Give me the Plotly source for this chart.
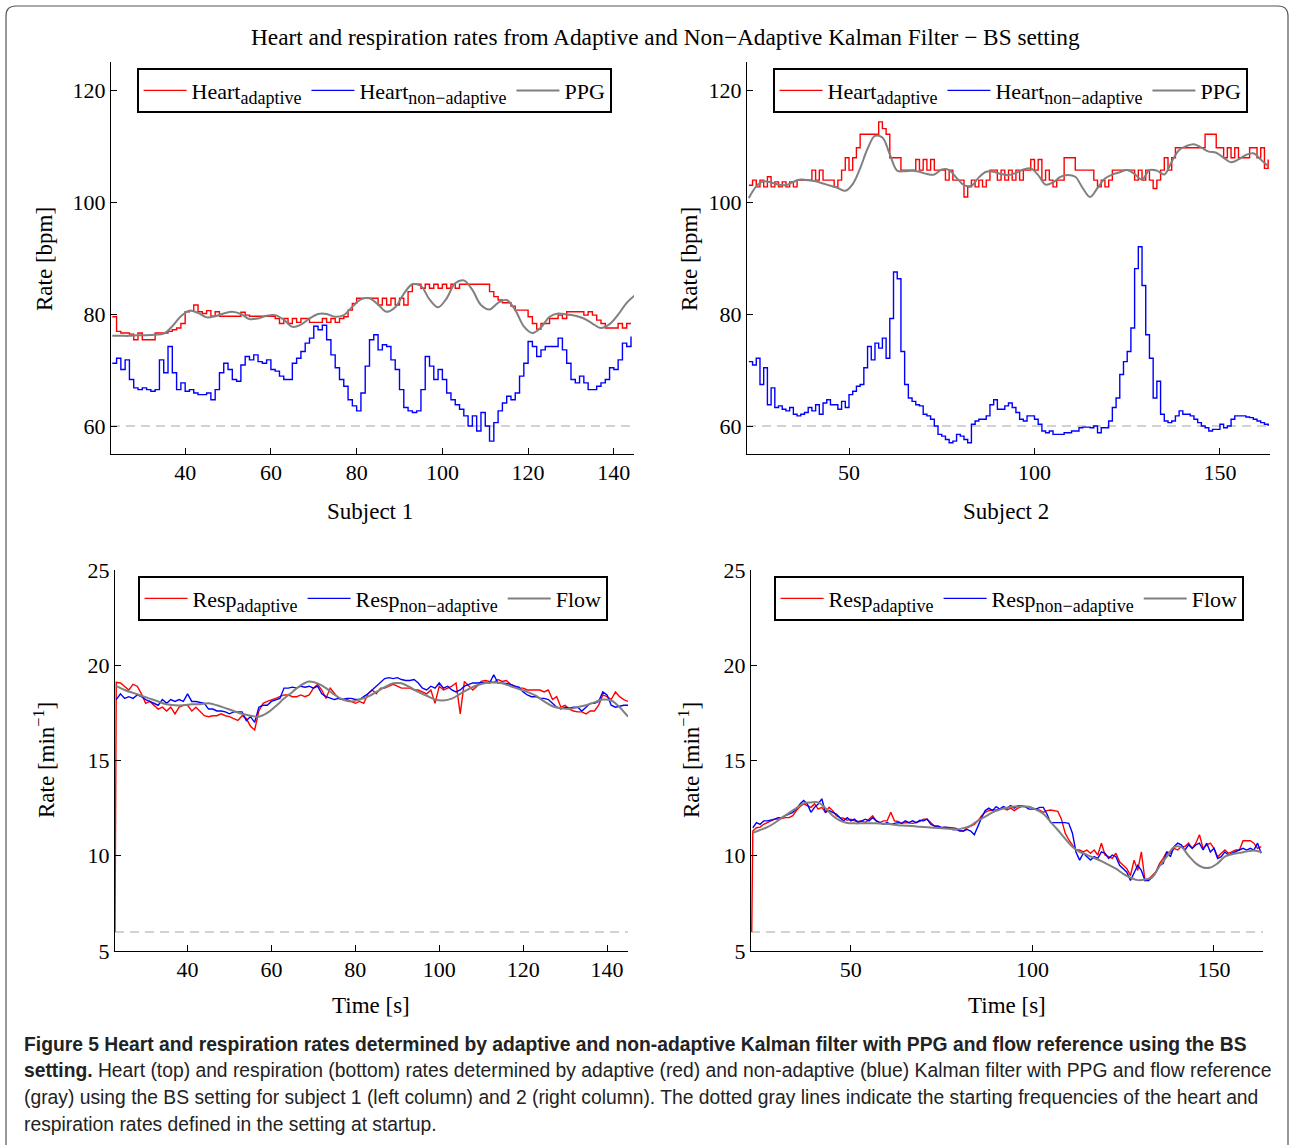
import plotly.graph_objects as go

# ---------------- data ----------------
# Subject 1 – heart (time in s, rate in bpm)
t_heart1 = list(range(23, 145))
heart1_adaptive = [
    79.5, 76.9, 76.6, 76.6, 76.4, 75.4, 76.6, 75.4, 75.4, 75.4,
    76.6, 76.6, 76.6, 76.9, 77.2, 77.5, 78.3, 80.4, 80.6, 81.6,
    80.4, 80.1, 80.6, 79.6, 80.4, 79.6, 79.6, 79.6, 79.6, 79.6,
    80.3, 79.8, 79.6, 79.6, 79.6, 79.6, 79.6, 79.6, 79.2, 78.3,
    79.2, 78.3, 79.2, 78.5, 79.2, 79.2, 78.5, 78.5, 78.5, 79.2,
    78.5, 79.2, 78.5, 79.2, 79.5, 80.7, 81.9, 82.8, 82.8, 82.8,
    82.8, 82.8, 81.6, 82.8, 81.6, 82.8, 81.6, 82.8, 81.6, 84.0,
    85.3, 85.3, 84.6, 85.3, 84.6, 85.3, 84.6, 85.3, 84.6, 85.3,
    84.6, 85.3, 85.3, 85.3, 85.3, 85.3, 85.3, 85.3, 84.0, 83.1,
    82.5, 82.0, 82.0, 81.4, 80.7, 80.7, 80.7, 79.5, 78.3, 77.3,
    78.3, 78.3, 79.2, 79.2, 79.8, 79.2, 80.4, 80.4, 80.4, 80.4,
    79.8, 80.4, 79.8, 78.9, 78.3, 77.5, 77.5, 77.5, 78.3, 77.5,
    78.3, 78.3]
heart1_nonadaptive = [
    71.2, 72.1, 70.1, 71.8, 68.3, 66.8, 66.5, 66.8, 66.5, 66.2,
    66.5, 71.8, 69.5, 74.2, 69.5, 66.5, 67.7, 66.2, 66.5, 65.9,
    65.6, 65.6, 65.9, 64.7, 66.5, 69.5, 71.2, 70.1, 68.3, 68.0,
    70.9, 72.4, 71.8, 72.7, 71.5, 71.2, 71.8, 70.1, 69.8, 68.9,
    68.3, 68.3, 71.2, 72.1, 73.3, 74.8, 75.7, 77.8, 77.2, 78.0,
    75.4, 72.7, 70.4, 68.3, 67.1, 64.7, 63.6, 62.7, 65.9, 70.7,
    75.4, 76.3, 73.6, 74.5, 74.2, 71.8, 70.1, 66.5, 63.3, 62.7,
    62.4, 62.7, 66.5, 72.4, 70.7, 68.3, 70.1, 68.3, 65.9, 64.7,
    63.8, 63.0, 61.8, 60.0, 61.8, 59.1, 62.4, 60.0, 57.3, 60.6,
    62.7, 64.1, 65.3, 64.7, 65.9, 68.9, 71.2, 75.1, 74.2, 72.4,
    73.6, 74.2, 74.2, 74.2, 75.7, 73.6, 71.2, 68.3, 67.7, 68.9,
    67.7, 66.5, 66.5, 67.1, 67.7, 68.3, 70.4, 70.1, 71.8, 74.8,
    74.2, 76.0]
t_ppg1 = list(range(23, 146, 2))
ppg1 = [
    76.1, 76.1, 76.1, 76.2, 76.2, 76.3, 76.5, 77.8, 79.6, 80.6,
    80.2, 79.4, 79.6, 80.1, 80.4, 80.0, 79.1, 79.2, 79.7, 79.8,
    79.0, 77.7, 78.1, 79.2, 80.0, 80.0, 79.5, 79.8, 81.3, 82.6,
    82.8, 81.7, 80.4, 81.2, 83.6, 85.3, 85.0, 82.6, 81.2, 82.8,
    85.5, 86.0, 84.3, 81.6, 80.8, 82.0, 82.5, 80.7, 77.8, 76.6,
    77.6, 79.5, 80.1, 79.9, 79.7, 79.2, 78.3, 77.5, 78.2, 79.9,
    82.0, 83.4]

# Subject 2 – heart
t_heart2 = list(range(23, 164))
heart2_adaptive = [
    103.0, 103.9, 102.7, 103.9, 102.7, 104.5, 102.7, 103.6, 102.7, 103.6,
    102.7, 103.6, 102.7, 103.9, 103.9, 103.9, 103.9, 105.7, 103.9, 105.7,
    103.9, 103.9, 103.9, 102.7, 103.9, 105.7, 107.9, 105.7, 107.9, 109.7,
    112.1, 112.1, 112.1, 112.1, 112.1, 114.3, 113.1, 112.1, 107.9, 107.9,
    107.9, 105.7, 105.7, 105.7, 105.7, 107.6, 105.7, 107.6, 105.7, 107.6,
    105.7, 105.7, 105.7, 103.9, 105.7, 103.9, 103.9, 103.9, 100.9, 102.7,
    103.9, 102.7, 103.9, 102.7, 103.9, 105.7, 105.7, 103.9, 105.7, 103.9,
    105.7, 103.9, 105.7, 103.9, 105.7, 105.7, 107.6, 105.7, 107.6, 103.9,
    105.7, 103.9, 102.7, 103.9, 103.9, 107.9, 107.9, 107.9, 105.7, 105.7,
    105.7, 105.7, 105.7, 103.9, 102.7, 103.9, 102.7, 103.9, 105.7, 105.7,
    105.7, 105.7, 105.7, 105.7, 103.9, 105.7, 103.9, 105.7, 103.9, 102.4,
    103.9, 105.7, 107.9, 105.7, 107.9, 109.7, 109.7, 109.7, 109.7, 109.7,
    109.7, 109.7, 109.7, 112.1, 112.1, 112.1, 109.7, 109.7, 107.9, 109.7,
    107.9, 109.7, 107.9, 107.9, 107.9, 109.7, 109.7, 107.9, 109.7, 106.0,
    107.6]
heart2_nonadaptive = [
    71.5, 70.9, 72.1, 67.4, 70.4, 63.8, 66.8, 63.3, 63.6, 63.0,
    62.7, 63.3, 62.1, 61.8, 62.1, 62.4, 63.3, 62.7, 63.8, 62.1,
    64.1, 64.7, 63.8, 63.8, 63.0, 64.4, 63.3, 65.6, 66.2, 67.1,
    67.4, 70.4, 74.2, 71.8, 74.8, 73.9, 75.7, 72.1, 79.2, 87.5,
    86.3, 73.3, 67.4, 65.0, 64.4, 63.8, 63.6, 62.1, 61.8, 61.2,
    60.0, 58.5, 58.2, 57.6, 57.0, 57.3, 58.5, 58.2, 57.6, 57.0,
    60.3, 60.9, 61.2, 61.2, 61.8, 63.8, 64.7, 63.0, 63.0, 63.6,
    64.1, 63.3, 62.4, 61.2, 60.9, 61.8, 61.8, 61.2, 60.3, 59.1,
    58.8, 59.1, 58.5, 58.5, 58.5, 58.8, 58.8, 59.1, 59.1, 59.7,
    59.8, 59.8, 59.7, 60.0, 58.8, 59.7, 59.7, 60.9, 63.3, 65.0,
    69.2, 71.5, 73.3, 77.5, 88.1, 92.0, 85.1, 76.3, 72.1, 65.0,
    68.0, 62.1, 60.9, 60.6, 60.9, 61.8, 62.7, 62.1, 62.1, 61.8,
    61.2, 60.6, 60.0, 59.7, 59.1, 59.4, 59.4, 60.3, 59.7, 60.0,
    61.2, 61.8, 61.8, 61.8, 61.6, 61.5, 61.2, 60.9, 60.6, 60.3,
    60.0]
t_ppg2 = list(range(23, 164, 2))
ppg2 = [
    100.7, 102.8, 103.7, 103.5, 103.1, 103.0, 103.6, 104.0, 103.9, 103.7,
    103.3, 102.9, 102.5, 102.0, 103.2, 106.0, 109.5, 111.8, 111.5, 108.5,
    105.6, 105.5, 105.6, 105.4, 105.0, 104.9, 105.8, 105.7, 104.3, 103.0,
    102.9, 104.4, 105.4, 105.4, 105.0, 104.8, 105.2, 105.8, 106.0, 104.8,
    103.1, 103.5, 104.5, 104.8, 104.5, 102.5, 100.9, 102.5, 104.2, 104.9,
    105.3, 105.7, 105.0, 104.0, 105.7, 105.6, 104.9, 107.2, 109.3, 110.0,
    110.3, 109.7, 109.0, 108.8, 107.9, 107.1, 107.6, 108.4, 108.7, 107.6,
    106.4]

# Subject 1 – respiration (rate in 1/min)
t_resp1 = list(range(23, 146))
resp1_adaptive = [
    19.1, 19.07, 18.9, 18.7, 19.0, 18.9, 18.5, 18.0, 18.1, 17.9,
    17.7, 17.8, 17.6, 17.8, 17.45, 17.8, 17.9, 17.9, 17.6, 17.8,
    17.6, 17.35, 17.3, 17.35, 17.35, 17.45, 17.35, 17.3, 17.2, 17.1,
    17.35, 17.2, 16.8, 16.6, 17.6, 18.0, 18.1, 18.2, 18.26, 18.35,
    18.44, 18.44, 18.35, 18.35, 18.44, 18.35, 18.44, 18.8, 19.0, 18.7,
    18.26, 18.8, 18.5, 18.26, 18.2, 18.2, 18.1, 18.0, 18.1, 18.0,
    18.5, 18.7, 18.5, 18.8, 18.8, 18.9, 19.0, 18.9, 18.8, 18.8,
    18.8, 18.7, 18.7, 18.6, 18.5, 18.7, 18.0, 18.9, 18.7, 18.8,
    18.9, 19.07, 17.45, 19.15, 18.9, 18.7, 18.9, 19.15, 19.2, 19.15,
    19.1, 19.25, 19.15, 19.2, 19.0, 18.9, 18.8, 18.8, 18.7, 18.7,
    18.7, 18.7, 18.6, 18.7, 18.2, 18.35, 17.8, 17.9, 17.7, 17.6,
    17.55, 17.55, 17.45, 17.6, 17.6, 17.9, 18.44, 18.35, 18.2, 18.6,
    18.35, 18.2, 18.1]
resp1_nonadaptive = [
    18.2, 18.5, 18.26, 18.35, 18.26, 18.44, 18.35, 18.2, 18.1, 18.0,
    17.9, 18.2, 18.0, 18.2, 18.1, 18.2, 18.1, 18.5, 18.1, 18.1,
    18.03, 18.0, 17.7, 17.7, 17.6, 17.6, 17.55, 17.45, 17.55, 17.55,
    17.55, 17.1, 17.3, 17.0, 17.8, 17.9, 17.9, 18.1, 18.2, 18.26,
    18.8, 18.8, 18.85, 18.8, 18.9, 18.85, 18.9, 18.8, 18.9, 18.5,
    18.35, 18.26, 18.2, 18.26, 18.2, 18.26, 18.26, 18.2, 18.2, 18.35,
    18.5, 18.7, 18.9, 19.15, 19.3, 19.35, 19.3, 19.35, 19.25, 19.2,
    19.2, 19.25, 19.07, 18.8, 18.7, 18.9, 18.8, 19.07, 18.8, 18.9,
    18.7, 18.6, 18.7, 18.9, 19.0, 19.07, 19.07, 19.1, 19.1, 19.07,
    19.5, 19.07, 19.07, 19.05, 19.0, 18.9, 18.85, 18.6, 18.44, 18.35,
    18.35, 18.26, 18.26, 18.2, 18.0, 17.8, 17.7, 17.8, 17.75, 17.8,
    17.8, 17.6, 17.8, 18.0, 18.0, 18.1, 18.6, 18.44, 17.9, 17.8,
    17.85, 17.9, 17.9]
t_flow1 = list(range(23, 146, 2))
flow1 = [
    18.9, 18.7, 18.55, 18.4, 18.25, 18.1, 17.95, 17.9, 17.9, 17.95,
    17.95, 18.0, 17.9, 17.75, 17.6, 17.45, 17.35, 17.3, 17.5, 17.85,
    18.25, 18.6, 18.95, 19.15, 19.05, 18.8, 18.45, 18.2, 18.1, 18.2,
    18.35, 18.6, 18.85, 19.05, 19.05, 18.85, 18.6, 18.4, 18.2, 18.15,
    18.25, 18.5, 18.75, 18.95, 19.07, 19.1, 19.05, 18.9, 18.75, 18.6,
    18.4, 18.1, 17.85, 17.75, 17.7, 17.8, 17.9, 18.05, 18.2, 18.15,
    17.8, 17.3]

# Subject 2 – respiration
t_resp2 = list(range(23, 164))
resp2_adaptive = [
    11.3, 11.47, 11.5, 11.65, 11.74, 11.8, 11.92, 11.92, 11.97, 12.0,
    12.0, 12.1, 12.37, 12.58, 12.72, 12.63, 12.54, 12.72, 12.45, 12.54,
    12.28, 12.54, 12.37, 12.1, 12.0, 11.97, 11.86, 11.92, 11.83, 11.8,
    11.83, 11.74, 11.92, 12.1, 11.83, 11.74, 11.83, 11.83, 12.28, 11.83,
    11.8, 11.7, 11.74, 11.7, 11.7, 11.74, 11.8, 11.92, 11.92, 11.74,
    11.56, 11.5, 11.5, 11.47, 11.47, 11.47, 11.43, 11.33, 11.3, 11.47,
    11.56, 11.65, 11.83, 12.1, 12.28, 12.37, 12.4, 12.4, 12.45, 12.5,
    12.4, 12.5, 12.37, 12.5, 12.58, 12.58, 12.58, 12.5, 12.45, 12.4,
    12.28, 12.37, 12.4, 12.37, 12.33, 11.92, 11.2, 10.84, 10.57, 10.3,
    10.3, 10.2, 10.3, 10.13, 10.3, 10.04, 10.66, 10.04, 9.95, 9.86,
    10.13, 9.68, 9.5, 9.32, 8.96, 9.77, 9.23, 10.2, 8.7, 8.78,
    8.96, 9.14, 9.59, 9.86, 10.2, 10.13, 10.39, 10.3, 10.48, 10.48,
    10.66, 10.39, 10.66, 11.1, 10.39, 10.57, 10.66, 10.39, 9.95, 10.13,
    10.3, 10.13, 10.2, 10.3, 10.3, 10.79, 10.79, 10.79, 10.66, 10.39,
    10.48]
resp2_nonadaptive = [
    11.47, 11.74, 11.65, 11.83, 11.83, 11.86, 11.92, 12.0, 12.0, 12.1,
    12.19, 12.28, 12.45, 12.72, 12.9, 12.72, 12.28, 12.54, 12.72, 12.99,
    12.28, 12.37, 12.28, 12.19, 12.0, 11.83, 12.0, 11.83, 11.92, 11.74,
    11.83, 11.92, 11.83, 12.0, 11.83, 11.74, 11.65, 11.74, 11.65, 11.7,
    11.74, 11.7, 11.83, 11.74, 11.83, 11.74, 11.86, 11.83, 11.92, 11.65,
    11.56, 11.56, 11.47, 11.5, 11.47, 11.38, 11.38, 11.3, 11.3, 11.38,
    11.3, 11.1, 11.56, 12.0, 12.37, 12.5, 12.37, 12.58, 12.45, 12.58,
    12.5, 12.63, 12.5, 12.63, 12.63, 12.58, 12.45, 12.45, 12.45, 12.54,
    12.54, 12.19, 11.74, 11.74, 11.74, 11.74, 11.74, 11.7, 11.2, 10.2,
    9.77, 10.13, 9.95, 9.77, 9.95, 9.86, 10.2, 10.13, 9.86, 10.04,
    9.95, 9.5, 9.32, 9.14, 8.7, 9.14, 9.5, 9.23, 8.7, 8.7,
    8.87, 9.14, 9.5, 9.59, 10.2, 9.95, 10.48, 10.66, 10.57, 10.3,
    10.57, 10.39, 10.57, 10.66, 10.3, 10.66, 10.2, 10.39, 9.86, 9.95,
    10.2, 10.04, 10.13, 10.2, 10.3, 10.39, 10.3, 10.39, 10.3, 10.66,
    10.13]
t_flow2 = list(range(23, 164, 2))
flow2 = [
    11.2, 11.35, 11.5, 11.72, 12.0, 12.25, 12.5, 12.75, 12.8, 12.8,
    12.5, 12.1, 11.85, 11.72, 11.7, 11.7, 11.7, 11.7, 11.68, 11.65,
    11.6, 11.58, 11.56, 11.52, 11.5, 11.47, 11.45, 11.42, 11.38, 11.45,
    11.58, 11.85, 12.05, 12.28, 12.42, 12.52, 12.58, 12.6, 12.57, 12.42,
    12.2, 11.78, 11.35, 10.9, 10.47, 10.2, 10.05, 9.88, 9.72, 9.52,
    9.32, 9.05, 8.85, 8.72, 8.75, 8.88, 9.45, 9.95, 10.45, 10.45,
    10.0, 9.6, 9.38, 9.38, 9.6, 9.95, 10.08, 10.15, 10.22, 10.28,
    10.2]

# start-up settings (dotted reference lines) and filter start time
t_start = 22.7
heart_start_rate = 60
resp_start_rate = 6

# axis ranges / ticks
x_range_s1 = [22.7, 144.7]
x_range_s1_resp = [22.7, 145.0]
x_range_s2 = [22.5, 163.5]
heart_range = [55, 125]
resp_range = [5, 25]
x_ticks_s1 = [40, 60, 80, 100, 120, 140]
x_ticks_s2 = [50, 100, 150]
heart_ticks = [60, 80, 100, 120]
resp_ticks = [5, 10, 15, 20, 25]

# ---------------- figure ----------------
W, H = 1289, 1145
SERIF = "Liberation Serif, Times New Roman, serif"
RED, BLUE, GRAY, DASH = "#ff0000", "#0000ff", "#808080", "#c4c4c4"


def fx(p):
    return p / W


def fy(p):
    return 1 - p / H


fig = go.Figure()


def add_panel(n, t_a, a, t_b, b, t_c, c, names, legend, start_rate, xr, shape):
    xa = "x" if n == 1 else f"x{n}"
    ya = "y" if n == 1 else f"y{n}"
    fig.add_trace(go.Scatter(x=[xr[0], xr[1]], y=[start_rate, start_rate], mode="lines",
                             line=dict(color=DASH, width=1.5, dash="9px,6px"),
                             showlegend=False, hoverinfo="skip", xaxis=xa, yaxis=ya))
    fig.add_trace(go.Scatter(x=t_a, y=a, mode="lines", name=names[0], legend=legend,
                             line=dict(color=RED, width=1.4, shape=shape), xaxis=xa, yaxis=ya))
    fig.add_trace(go.Scatter(x=t_b, y=b, mode="lines", name=names[1], legend=legend,
                             line=dict(color=BLUE, width=1.4, shape=shape), xaxis=xa, yaxis=ya))
    fig.add_trace(go.Scatter(x=t_c, y=c, mode="lines", name=names[2], legend=legend,
                             line=dict(color=GRAY, width=2, shape="spline"), xaxis=xa, yaxis=ya))


SUBF = '<span style="font-size:18px">%s</span>'
heart_names = ["Heart<sub>" + SUBF % "adaptive" + "</sub>",
               "Heart<sub>" + SUBF % "non\u2212adaptive" + "</sub>", "PPG"]
resp_names = ["Resp<sub>" + SUBF % "adaptive" + "</sub>",
              "Resp<sub>" + SUBF % "non\u2212adaptive" + "</sub>", "Flow"]

add_panel(1, t_heart1, heart1_adaptive, t_heart1, heart1_nonadaptive, t_ppg1, ppg1,
          heart_names, "legend", heart_start_rate, x_range_s1, "hv")
add_panel(2, t_heart2, heart2_adaptive, t_heart2, heart2_nonadaptive, t_ppg2, ppg2,
          heart_names, "legend2", heart_start_rate, x_range_s2, "hv")
add_panel(3, [t_start] + t_resp1, [resp_start_rate] + resp1_adaptive, t_resp1, resp1_nonadaptive,
          t_flow1, flow1, resp_names, "legend3", resp_start_rate, x_range_s1_resp, "linear")
add_panel(4, [t_start] + t_resp2, [resp_start_rate] + resp2_adaptive, t_resp2, resp2_nonadaptive,
          t_flow2, flow2, resp_names, "legend4", resp_start_rate, x_range_s2, "linear")

axis_common = dict(showline=True, linecolor="black", linewidth=1.2, ticks="inside", ticklen=6,
                   tickcolor="black", tickwidth=1, showgrid=False, zeroline=False, automargin=False,
                   tickfont=dict(family=SERIF, size=22, color="black"), fixedrange=True)
xaxis_extra = dict(ticklabelstandoff=-2)

layout_axes = {
    "xaxis": dict(domain=[fx(111), fx(634)], range=x_range_s1, tickvals=x_ticks_s1, anchor="y", **axis_common, **xaxis_extra),
    "yaxis": dict(domain=[fy(454), fy(62)], range=heart_range, tickvals=heart_ticks, anchor="x", **axis_common),
    "xaxis2": dict(domain=[fx(747), fx(1270)], range=x_range_s2, tickvals=x_ticks_s2, anchor="y2", **axis_common, **xaxis_extra),
    "yaxis2": dict(domain=[fy(454), fy(62)], range=heart_range, tickvals=heart_ticks, anchor="x2", **axis_common),
    "xaxis3": dict(domain=[fx(115), fx(628)], range=x_range_s1_resp, tickvals=x_ticks_s1, anchor="y3", **axis_common, **xaxis_extra),
    "yaxis3": dict(domain=[fy(951), fy(570)], range=resp_range, tickvals=resp_ticks, anchor="x3", **axis_common),
    "xaxis4": dict(domain=[fx(751), fx(1263)], range=x_range_s2, tickvals=x_ticks_s2, anchor="y4", **axis_common, **xaxis_extra),
    "yaxis4": dict(domain=[fy(951), fy(570)], range=resp_range, tickvals=resp_ticks, anchor="x4", **axis_common),
}

legend_common = dict(orientation="h", xanchor="left", yanchor="top", bgcolor="white",
                     bordercolor="black", borderwidth=1.6,
                     font=dict(family=SERIF, size=22, color="black"),
                     itemwidth=43, tracegroupgap=0)

annotations = []


def text(x, y, s, size=23, angle=0, xanchor="center", family=SERIF, color="black"):
    annotations.append(dict(x=fx(x), y=fy(y), xref="paper", yref="paper", text=s, showarrow=False,
                            textangle=angle, xanchor=xanchor, yanchor="middle",
                            font=dict(family=family, size=size, color=color)))


text(665, 37, "Heart and respiration rates from Adaptive and Non\u2212Adaptive Kalman Filter \u2212 BS setting", size=23.3)
text(370, 511, "Subject 1")
text(1006, 511, "Subject 2")
text(371, 1005, "Time [s]")
text(1007, 1005, "Time [s]")
text(44, 259, "Rate [bpm]", angle=-90)
text(689, 259, "Rate [bpm]", angle=-90)
text(44, 760, "Rate [min<sup>\u22121</sup>]", angle=-90)
text(689, 760, "Rate [min<sup>\u22121</sup>]", angle=-90)

CAP = "Liberation Sans, Arial, sans-serif"
cap_lines = [
    "<b>Figure 5 Heart and respiration rates determined by adaptive and non-adaptive Kalman filter with PPG and flow reference using the BS</b>",
    "<b>setting.</b> Heart (top) and respiration (bottom) rates determined by adaptive (red) and non-adaptive (blue) Kalman filter with PPG and flow reference",
    "(gray) using the BS setting for subject 1 (left column) and 2 (right column). The dotted gray lines indicate the starting frequencies of the heart and",
    "respiration rates defined in the setting at startup.",
]
for i, ln in enumerate(cap_lines):
    text(22, 1044 + i * 26.7, ln, size=19.3, xanchor="left", family=CAP, color="#222222")

border = (f"M {fx(6)},{fy(1145)} L {fx(6)},{fy(16)} Q {fx(6)},{fy(6)} {fx(16)},{fy(6)} "
          f"L {fx(1278)},{fy(6)} Q {fx(1288)},{fy(6)} {fx(1288)},{fy(16)} L {fx(1288)},{fy(1145)}")

fig.update_layout(
    width=W, height=H, margin=dict(l=0, r=0, t=0, b=0, pad=0, autoexpand=False),
    paper_bgcolor="white", plot_bgcolor="white", showlegend=True,
    font=dict(family=SERIF, size=22, color="black"),
    legend=dict(x=fx(137), y=fy(68), **legend_common),
    legend2=dict(x=fx(773), y=fy(68), **legend_common),
    legend3=dict(x=fx(138), y=fy(576), **legend_common),
    legend4=dict(x=fx(774), y=fy(576), **legend_common),
    annotations=annotations,
    shapes=[dict(type="path", path=border, xref="paper", yref="paper",
                 line=dict(color="#555555", width=1.2))],
    hovermode=False,
    **layout_axes,
)

fig.write_html("out.html", config={"displayModeBar": False})
